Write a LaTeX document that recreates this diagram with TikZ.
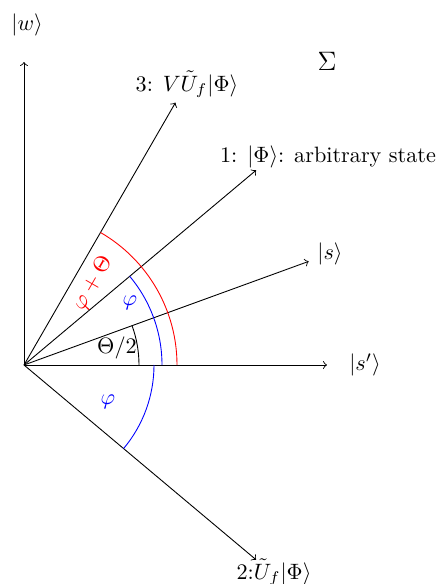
\documentclass[tikz,border=0pt]{standalone}
\usetikzlibrary{calc}
\begin{document}
\begin{tikzpicture}[x=0.45pt,y=0.45pt,
  vec/.style={->},
  lbl/.style={inner sep=0pt}]
\path[use as bounding box] (0,0) rectangle (438,584);
\begin{scope}[shift={(24,219)}]
\coordinate (O) at (0,0);
\coordinate (W) at (90:303);
\coordinate (Sp) at (0:303);
\coordinate (S) at (20:303);
\coordinate (P1) at (40:303);
\coordinate (P3) at (60:303);
\coordinate (P2) at (-40:303);
\draw[vec] (O) -- (W);
\draw[vec] (O) -- (Sp);
\draw[vec] (O) -- (S);
\draw[vec] (O) -- (P1);
\draw[vec] (O) -- (P3);
\draw[vec] (O) -- (P2);
\draw (115,0) arc (0:20:115);
\draw[blue] (138,0) arc (0:40:138);
\draw[red] (153,0) arc (0:60:153);
\draw[blue] (130,0) arc (0:-40:130);
\end{scope}
\node[lbl] (lw) at (27,559) {$|w\rangle$};
\node[lbl] (lsp) at (365,219) {$|s'\rangle$};
\node[lbl] (ls) at (330,330) {$|s\rangle$};
\node[lbl] (l1) at (328,427) {1: $|\Phi\rangle$: arbitrary state};
\node[lbl] (l3) at (187,500) {3: $V\tilde{U}_f|\Phi\rangle$};
\node[lbl] (l2) at (274,12) {2:$\tilde{U}_f|\Phi\rangle$};
\node[lbl,font=\large] (sig) at (327,523) {$\Sigma$};
\node[lbl] (th) at (117,236) {$\Theta/2$};
\node[lbl,blue] (ph1) at (130,281) {$\varphi$};
\node[lbl,red,rotate=60] (pht) at (93,301) {$\varphi+\Theta$};
\node[lbl,blue] (ph2) at (108,182) {$\varphi$};
\end{tikzpicture}
\end{document}
